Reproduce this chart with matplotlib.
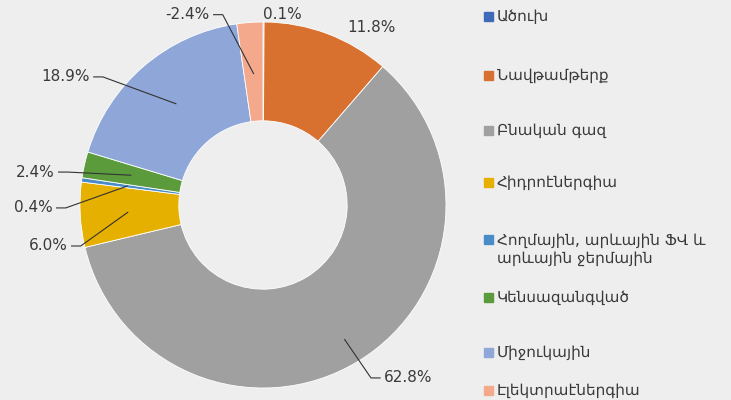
import matplotlib

matplotlib.use("Agg")
import matplotlib.pyplot as plt
import numpy as np
from matplotlib.patches import Rectangle

# data (shares, %)
sources = [
    "Ածուխ",
    "Նավթամթերք",
    "Բնական գազ",
    "Հիդրոէներգիա",
    "Հողմային, արևային ՖՎ և\nարևային ջերմային",
    "Կենսազանգված",
    "Միջուկային",
    "Էլեկտրաէներգիա",
]
shares = [0.1, 11.8, 62.8, 6.0, 0.4, 2.4, 18.9, -2.4]
colors = ["#3d6bb8", "#d8712f", "#a0a0a0", "#e6b000",
          "#4a8cc8", "#5b9b3c", "#8ea6d8", "#f4a98d"]

BG = "#efeeee"
W, H = 731, 400
CX, CY, R = 263, 205, 183  # pie centre / radius in pixels

# label layout: (x, y, ha, leader radius or None), in pie units
label_pos = [
    (0.0, 1.04, "left", None),
    (0.46, 0.97, "left", None),
    (0.66, -0.945, "left", 0.86),
    (-1.066, -0.224, "right", 0.74),
    (-1.148, -0.016, "right", 0.75),
    (-1.137, 0.18, "right", 0.74),
    (-0.945, 0.70, "right", 0.73),
    (-0.29, 1.04, "right", 0.72),
]

fig = plt.figure(figsize=(W / 100, H / 100), dpi=100, facecolor=BG)
ax = fig.add_axes([0, 0, 480 / W, 1])
ax.set_facecolor(BG)

sizes = np.abs(shares)
wedges, _ = ax.pie(
    sizes,
    colors=colors,
    startangle=90,
    counterclock=False,
    radius=1.0,
    wedgeprops=dict(width=0.54, edgecolor="white", linewidth=0.6),
)
ax.set_xlim(-CX / R, (480 - CX) / R)
ax.set_ylim((CY - H) / R, CY / R)
ax.set_aspect("auto")
ax.axis("off")

for w, val, (tx, ty, ha, lr) in zip(wedges, shares, label_pos):
    txt = f"{val:.1f}%"
    ax.text(tx, ty, txt, ha=ha, va="center", fontsize=11, color="#3a3a3a")
    if lr is None:
        continue
    mid = np.deg2rad((w.theta1 + w.theta2) / 2)
    px, py = lr * np.cos(mid), lr * np.sin(mid)
    stub = 0.05 if ha == "right" else -0.05
    x0 = tx + (0.02 if ha == "right" else -0.02)
    ax.plot([x0, x0 + stub, px], [ty, ty, py], color="#333333", lw=0.8)

# legend drawn by hand to follow the uneven spacing of the original
leg_y = [16, 75, 130, 182, 240, 297, 352, 390]
for name, col, yp in zip(sources, colors, leg_y):
    fig.patches.append(Rectangle((484 / W, 1 - (yp + 4.5) / H), 9 / W, 9 / H,
                                 transform=fig.transFigure, color=col))
    fig.text(497 / W, 1 - (yp - 7) / H, name, ha="left", va="top",
             fontsize=11, color="#3a3a3a", linespacing=1.25)

fig.savefig("out.png", dpi=100, facecolor=BG)
